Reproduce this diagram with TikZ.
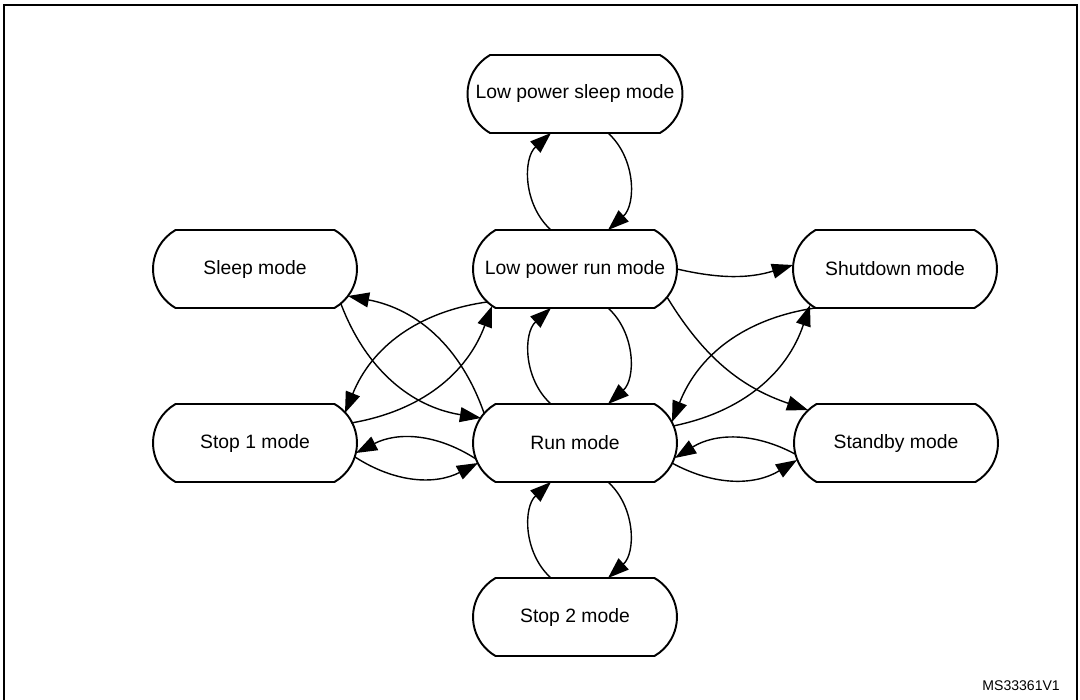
\documentclass[tikz,border=0pt]{standalone}
\usepackage{amsmath,amssymb}
\usepackage{mathtools}
\usepackage{fontspec}
\setmainfont{Liberation Sans}
\usepackage{tikz}
\usetikzlibrary{arrows.meta,calc,shapes.misc}

\begin{document}
\begin{tikzpicture}[x=0.02cm,y=0.02cm,
		>={Triangle[length=12pt,width=8.5pt]},
		mode/.style={draw,line width=1.1pt,rounded rectangle,rounded rectangle arc length=120,
			minimum width=4.08cm,minimum height=1.56cm,inner sep=0pt,
			font=\fontsize{11}{13}\selectfont},
		trans/.style={->,line width=0.8pt}]
		\useasboundingbox (0,0) rectangle (1080,-700);
		\draw[line width=1.5pt] (4,-760) -- (4,-5) -- (1077,-5) -- (1077,-760);
		% modes
		\node[mode,minimum width=4.3cm] (lpsleep) at (575,-94) {\clap{Low power sleep mode}};
		\node[mode] (sleep) at (255,-269) {\clap{Sleep mode}};
		\node[mode] (lprun) at (575,-269) {\clap{Low power run mode}};
		\node[mode] (shutdown) at (895,-269) {\clap{Shutdown mode}};
		\node[mode] (stop1) at (255,-443) {\clap{Stop 1 mode}};
		\node[mode] (run) at (575,-443) {\clap{Run mode}};
		\node[mode] (standby) at (896,-443) {\clap{Standby mode}};
		\node[mode] (stop2) at (575,-617) {\clap{Stop 2 mode}};
		\node[anchor=east,font=\fontsize{8}{10}\selectfont] (ref) at (1066,-686) {MS33361V1};
		% middle column, up on the left and down on the right
		\foreach \a/\b in {lprun/lpsleep,run/lprun,stop2/run}{
			\draw[trans] ($(\a)+(-24,39)$) to[bend left=48] ($(\b)+(-24,-39)$);
			\draw[trans] ($(\b)+(33,-39)$) to[bend left=48] ($(\a)+(33,39)$);
		}
		% left side
		\draw[trans] ($(sleep)+(86,-35)$) to[bend right=30] ($(run)+(-94,25)$);
		\draw[trans] ($(run)+(-91,30)$) to[bend right=30] ($(sleep)+(93,-27)$);
		\draw[trans] ($(stop1)+(96,20)$) to[bend right=30] ($(lprun)+(-83,-37)$);
		\draw[trans] ($(lprun)+(-88,-33)$) to[bend right=30] ($(stop1)+(90,30)$);
		\draw[trans] ($(run)+(-99,-16)$) to[bend right=30] ($(stop1)+(101,-10)$);
		\draw[trans] ($(stop1)+(100,-14)$) to[bend right=30] ($(run)+(-97,-20)$);
		% right side
		\draw[trans] ($(lprun)+(102,0)$) to[bend right=15] ($(shutdown)+(-102,4)$);
		\draw[trans] ($(lprun)+(92,-28)$) to[bend right=20] ($(standby)+(-88,33)$);
		\draw[trans] ($(shutdown)+(-80,-39)$) to[bend right=30] ($(run)+(97,21)$);
		\draw[trans] ($(run)+(98,17)$) to[bend right=30] ($(shutdown)+(-85,-36)$);
		\draw[trans] ($(standby)+(-101,-11)$) to[bend right=30] ($(run)+(100,-15)$);
		\draw[trans] ($(run)+(97,-20)$) to[bend right=30] ($(standby)+(-99,-17)$);
	\end{tikzpicture}
\end{document}
